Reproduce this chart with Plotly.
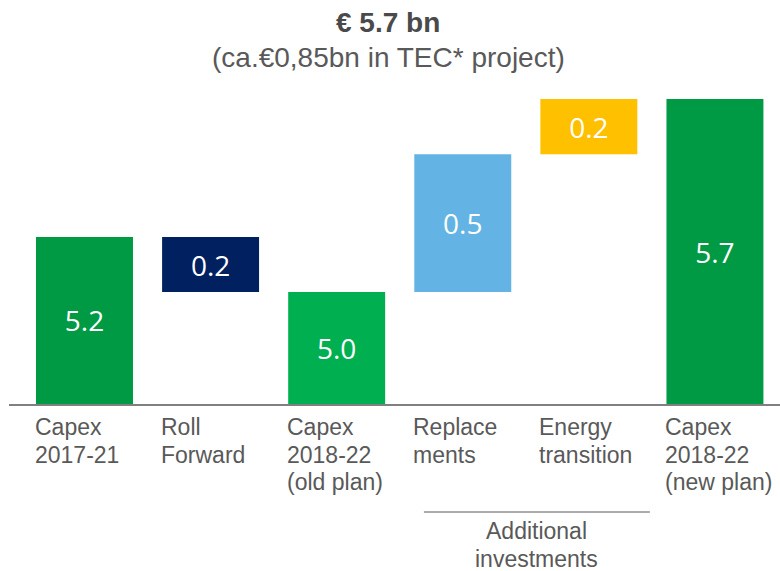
import plotly.graph_objects as go

# ---- data ----
CATEGORIES = ["Capex<br>2017-21", "Roll<br>Forward", "Capex<br>2018-22<br>(old plan)",
              "Replace<br>ments", "Energy<br>transition", "Capex<br>2018-22<br>(new plan)"]
VALUES = [5.2, -0.2, 5.0, 0.5, 0.2, 5.7]
MEASURES = ["total", "relative", "total", "relative", "relative", "total"]
COLORS = ["#009944", "#002060", "#00B050", "#63B4E4", "#FFC000", "#009944"]
AXIS_MIN = 4.594          # truncated value axis starts here
GROUP_LABEL = "Additional<br>investments"
GROUP_SPAN = (3, 4)       # categories covered by the group label
TITLE = "€ 5.7 bn"
SUBTITLE = "(ca.€0,85bn in TEC* project)"

# ---- build waterfall geometry from data ----
bases, lengths, labels = [], [], []
running = 0.0
for m, v in zip(MEASURES, VALUES):
    if m == "total":
        bases.append(AXIS_MIN)
        lengths.append(v - AXIS_MIN)
        running = v
    else:
        bases.append(running)
        lengths.append(v)
        running += v
    labels.append(f"{abs(v):.1f}")

xs = list(range(len(CATEGORIES)))
BAR_W = 0.769
TEXT_COLOR = "#595959"
LINE_STEP = 27.5
LABEL_FONT = dict(family="Liberation Sans, Arial", size=23, color=TEXT_COLOR)

fig = go.Figure(go.Bar(
    x=xs, y=lengths, base=bases, width=BAR_W,
    marker=dict(color=COLORS, line=dict(width=0)),
    text=labels, textposition="inside", insidetextanchor="middle",
    textangle=0, constraintext="none",
    textfont=dict(family="Open Sans", size=28, color="white"),
    hoverinfo="skip",
))

annotations = []
for x, c in zip(xs, CATEGORIES):
    for k, line in enumerate(c.split("<br>")):
        annotations.append(dict(
            x=x - BAR_W / 2, xref="x", xanchor="left", xshift=-3,
            y=0, yref="paper", yanchor="top", yshift=-8 - k * LINE_STEP,
            text=line, align="left", showarrow=False, font=LABEL_FONT,
        ))

g0 = GROUP_SPAN[0] - 0.308
g1 = GROUP_SPAN[1] + 0.484
for k, line in enumerate(GROUP_LABEL.split("<br>")):
    annotations.append(dict(
        x=(g0 + g1) / 2, xref="x", xanchor="center",
        y=0, yref="paper", yanchor="top", yshift=-112 - k * LINE_STEP,
        text=line, align="center", showarrow=False, font=LABEL_FONT,
    ))
annotations.append(dict(
    x=0.4916, xref="paper", xanchor="center",
    y=1, yref="paper", yanchor="top", yshift=-5,
    text=f"<b>{TITLE}</b>", showarrow=False,
    font=dict(family="Liberation Sans, Arial", size=28, color="#4a4a4a"),
))
annotations.append(dict(
    x=0.4916, xref="paper", xanchor="center",
    y=1, yref="paper", yanchor="top", yshift=-40,
    text=SUBTITLE, showarrow=False,
    font=dict(family="Liberation Sans, Arial", size=28, color=TEXT_COLOR),
))

fig.update_layout(
    width=780, height=571,
    margin=dict(l=9, r=0, t=0, b=167),
    plot_bgcolor="white", paper_bgcolor="white",
    showlegend=False,
    xaxis=dict(range=[-0.5987, 5.516], showline=True, linecolor="#808080", linewidth=2,
               showticklabels=False, ticks="", showgrid=False, zeroline=False),
    yaxis=dict(range=[AXIS_MIN, AXIS_MIN + 404 / 275.7], visible=False),
    annotations=annotations,
    shapes=[dict(type="line", xref="x", x0=g0, x1=g1,
                 yref="paper", ysizemode="pixel", yanchor=0, y0=-108, y1=-108,
                 line=dict(color="#595959", width=1))],
)

fig.write_html("out.html")
